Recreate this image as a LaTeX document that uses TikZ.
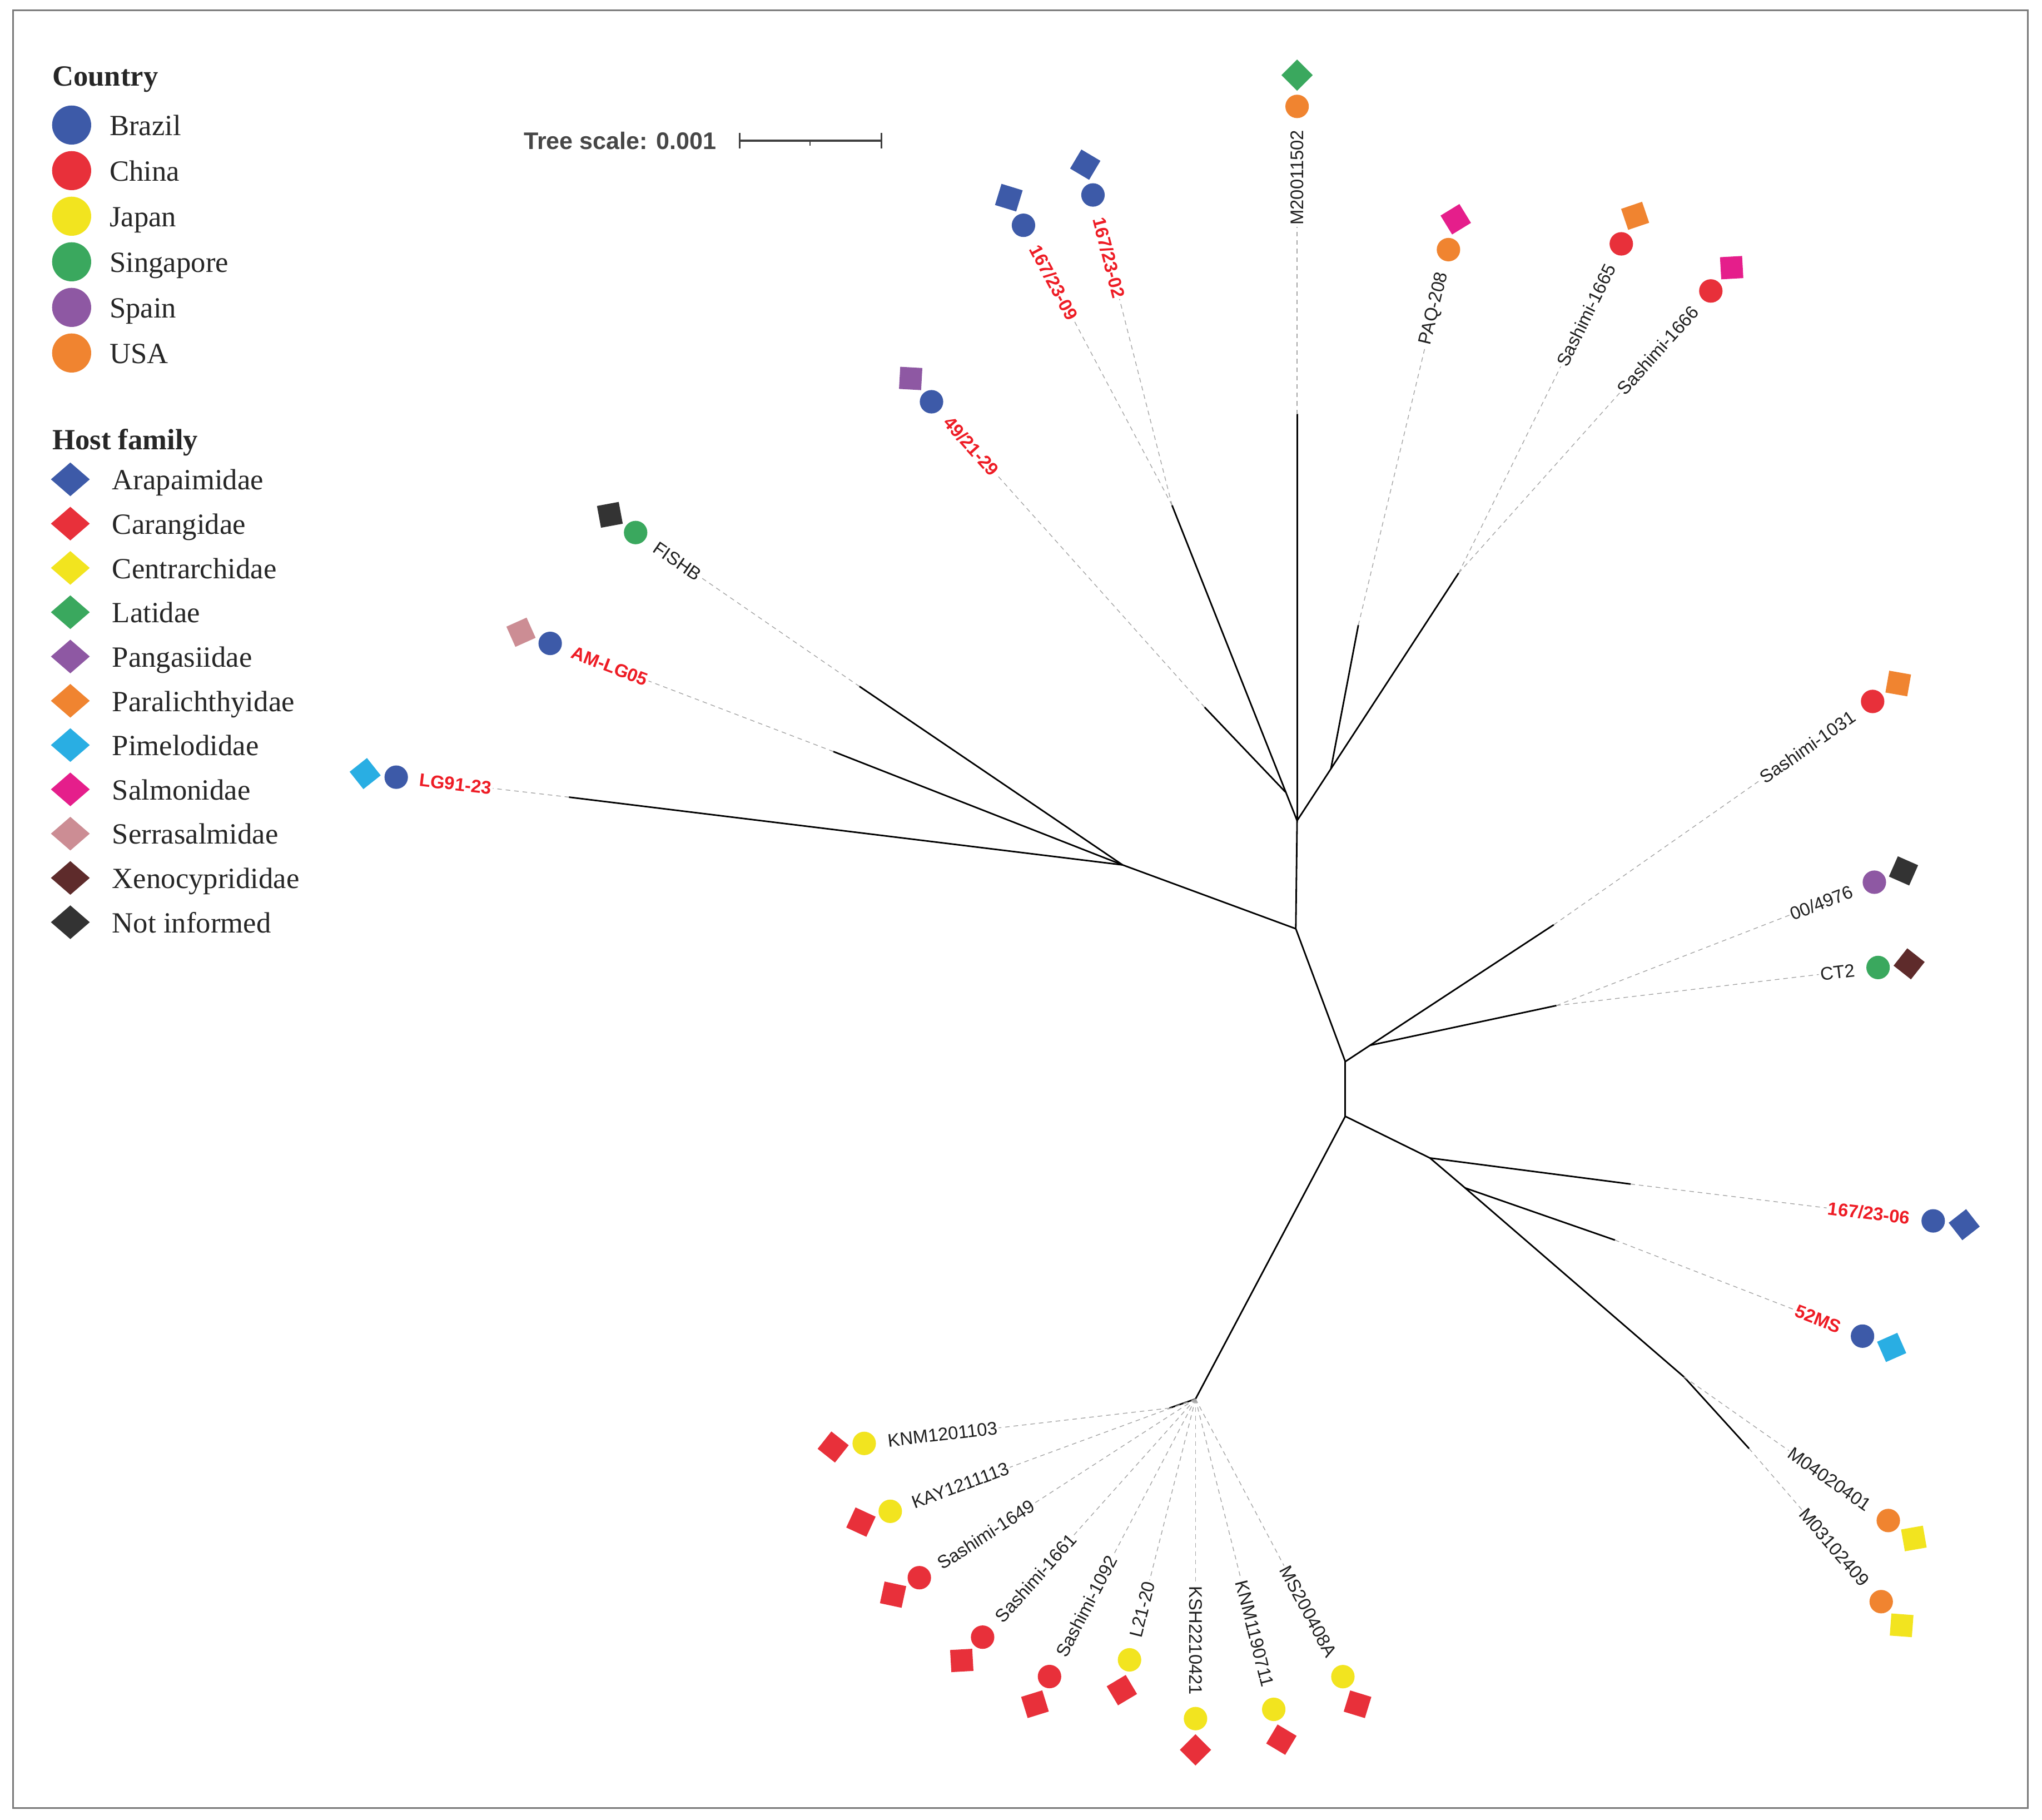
\documentclass[tikz,border=0pt]{standalone}
\usepackage{fontspec}
\setmainfont{Liberation Serif}
\newfontfamily\lab{Liberation Sans}
\usetikzlibrary{calc,shapes.geometric}
\definecolor{cBrazil}{HTML}{3D5AA8}
\definecolor{cChina}{HTML}{E8303A}
\definecolor{cJapan}{HTML}{F2E41F}
\definecolor{cSing}{HTML}{3AA85E}
\definecolor{cSpain}{HTML}{8E58A3}
\definecolor{cUSA}{HTML}{F08430}
\definecolor{hPime}{HTML}{29AEE3}
\definecolor{hSalm}{HTML}{E51E8B}
\definecolor{hSerr}{HTML}{CC8D94}
\definecolor{hXeno}{HTML}{5E2B2B}
\definecolor{hNot}{HTML}{333333}
\definecolor{labred}{HTML}{EE1C25}
\definecolor{framegray}{HTML}{7A7A7A}
\definecolor{legtxt}{HTML}{262626}

% right-half leaf: name, tip, angle, distance, text, style, country colour, host colour
\newcommand\leafR[8]{%
  \path (#2) ++(#3:#4) node[leaflab,#6,rotate=#3,anchor=west] (#1) {#5};
  \draw[lead] (#2) -- (#1.west);
  \node[cty,fill=#7] (#1c) at ($(#1.east)+(#3:17)$) {};
  \node[hst,fill=#8,rotate=#3+45] (#1h) at ($(#1c)+(#3:24)$) {};
}
% left-half leaf
\newcommand\leafL[8]{%
  \path (#2) ++(#3:#4) node[leaflab,#6,rotate=#3-180,anchor=east] (#1) {#5};
  \draw[lead] (#2) -- (#1.east);
  \node[cty,fill=#7] (#1c) at ($(#1.west)+(#3:17)$) {};
  \node[hst,fill=#8,rotate=#3+45] (#1h) at ($(#1c)+(#3:24)$) {};
}

\begin{document}
\begin{tikzpicture}[x=1pt,y=1pt,
  br/.style={line width=1.2pt, line cap=round, draw=black},
  lead/.style={draw=black!35, line width=0.6pt, dash pattern=on 3.5pt off 3pt},
  leaflab/.style={font={\lab\fontsize{14}{16.8}\selectfont}, inner sep=1pt},
  blk/.style={text=black!88},
  rd/.style={text=labred, font={\lab\bfseries\fontsize{14}{16.8}\selectfont}},
  cty/.style={circle, minimum size=18pt, inner sep=0pt, draw=none},
  hst/.style={rectangle, minimum size=17pt, inner sep=0pt, draw=none},
  legc/.style={circle, minimum size=30pt, inner sep=0pt, draw=none},
  legd/.style={diamond, minimum width=30pt, minimum height=26pt, inner sep=0pt, draw=none},
  legt/.style={anchor=base west, text=legtxt, font={\fontsize{22.5}{26}\selectfont}, inner sep=0pt},
  legh/.style={anchor=base west, text=legtxt, font={\bfseries\fontsize{22.5}{26}\selectfont}, inner sep=0pt},
  sbar/.style={draw=black!75, line width=1.3pt}
]
\fill[white] (0,0) rectangle (1568,-1397);
\useasboundingbox (0,0) rectangle (1568,-1397);
\draw[framegray, line width=1.3pt] (10,-8) rectangle (1557,-1388);

% ---------- legend ----------
\node[legh] (hC) at (40,-66) {Country};
\foreach \n/\c/\t [count=\i from 0] in {lB/cBrazil/Brazil, lC/cChina/China, lJ/cJapan/Japan, lS/cSing/Singapore, lE/cSpain/Spain, lU/cUSA/USA}{
  \node[legc, fill=\c] (\n) at (55,-96-35*\i) {};
  \node[legt] (\n t) at (84,-104-35*\i) {\t};
}
\node[legh] (hH) at (40,-345) {Host family};
\foreach \n/\c/\t [count=\i from 0] in {dA/cBrazil/Arapaimidae, dC/cChina/Carangidae, dCe/cJapan/Centrarchidae, dL/cSing/Latidae, dP/cSpain/Pangasiidae, dPa/cUSA/Paralichthyidae, dPi/hPime/Pimelodidae, dS/hSalm/Salmonidae, dSe/hSerr/Serrasalmidae, dX/hXeno/Xenocyprididae, dN/hNot/Not informed}{
  \node[legd, fill=\c] (\n) at (54,-368-34*\i) {};
  \node[legt] (\n t) at (86,-376-34*\i) {\t};
}

% ---------- tree scale ----------
\node[anchor=west, text=black!72, inner sep=0pt, font={\lab\bfseries\fontsize{18.4}{21}\selectfont}] (ts) at (402,-108) {Tree scale: 0.001};
\coordinate (sb1) at (568,-108);
\coordinate (sb2) at (677,-108);
\coordinate (sbm) at (622,-108);
\draw[sbar] (sb1) -- (sb2);
\draw[sbar] ($(sb1)+(0,6)$) -- ($(sb1)+(0,-6)$);
\draw[sbar] ($(sb2)+(0,6)$) -- ($(sb2)+(0,-6)$);
\draw[sbar, line width=0.9pt] (sbm) -- ($(sbm)+(0,-4)$);

% ---------- tree skeleton ----------
\coordinate (C1) at (1033,-815);
\coordinate (C2) at (1033,-857);
\coordinate (U) at (995,-713);
\coordinate (T) at (996,-630);
\coordinate (LN) at (862,-664);
\coordinate (tLG) at (437,-612);
\coordinate (tAM) at (640,-577);
\coordinate (tFI) at (660,-527);
\coordinate (tM2) at (996,-318);
\coordinate (N1) at (900,-388);
\coordinate (L1) at (987,-608);
\coordinate (t49) at (925,-543);
\coordinate (N2) at (1120,-440);
\coordinate (R1) at (1022,-590);
\coordinate (tPAQ) at (1043,-480);
\coordinate (RN) at (1052,-802.5);
\coordinate (tS31) at (1193,-710);
\coordinate (CTn) at (1195,-772);
\coordinate (A1) at (1098,-889);
\coordinate (t06) at (1252,-909);
\coordinate (A2) at (1125,-912);
\coordinate (t52) at (1240,-952);
\coordinate (Mn) at (1293,-1057);
\coordinate (tM03) at (1343,-1112);
\coordinate (Bn) at (918,-1074);
\coordinate (Bn2) at (898,-1081);

\draw[br] (C1) -- (C2);
\draw[br] (C1) -- (U) -- (T);
\draw[br] (U) -- (LN);
\draw[br] (LN) -- (tLG);
\draw[br] (LN) -- (tAM);
\draw[br] (LN) -- (tFI);
\draw[br] (T) -- (tM2);
\draw[br] (T) -- (N1);
\draw[br] (L1) -- (t49);
\draw[br] (T) -- (N2);
\draw[br] (R1) -- (tPAQ);
\draw[br] (C1) -- (RN) -- (tS31);
\draw[br] (RN) -- (CTn);
\draw[br] (C2) -- (A1) -- (t06);
\draw[br] (A1) -- (A2) -- (Mn) -- (tM03);
\draw[br] (A2) -- (t52);
\draw[br] (C2) -- (Bn) -- (Bn2);

% ---------- leaves ----------
\leafR{M2}{tM2}{90}{144}{M20011502}{blk}{cUSA}{cSing}
\leafL{s02}{N1}{104.3}{163.5}{167/23-02}{rd}{cBrazil}{cBrazil}
\leafL{s09}{N1}{117.95}{161}{167/23-09}{rd}{cBrazil}{cBrazil}
\leafL{s49}{t49}{131.8}{240}{49/21-29}{rd}{cBrazil}{cSpain}
\leafL{FI}{tFI}{145.5}{148}{FISHB}{blk}{cSing}{hNot}
\leafL{AM}{tAM}{159.1}{152}{AM-LG05}{rd}{cBrazil}{hSerr}
\leafL{LG}{tLG}{173.4}{59}{LG91-23}{rd}{cBrazil}{hPime}
\leafR{PAQ}{tPAQ}{76.5}{220.6}{PAQ-208}{blk}{cUSA}{hSalm}
\leafR{S65}{N2}{63.7}{177}{Sashimi-1665}{blk}{cChina}{cUSA}
\leafR{S66}{N2}{48.2}{185.6}{Sashimi-1666}{blk}{cChina}{hSalm}
\leafR{S31}{tS31}{35.0}{194}{Sashimi-1031}{blk}{cChina}{cUSA}
\leafR{P49}{CTn}{21.2}{192}{00/4976}{blk}{cSpain}{hNot}
\leafR{CT}{CTn}{6.75}{203}{CT2}{blk}{cSing}{hXeno}
\leafR{s06}{t06}{-6.94}{151.7}{167/23-06}{rd}{cBrazil}{cBrazil}
\leafR{MS52}{t52}{-21.2}{148}{52MS}{rd}{cBrazil}{hPime}
\leafR{M04}{Mn}{-35.1}{98.5}{M04020401}{blk}{cUSA}{cJapan}
\leafR{M03}{tM03}{-49.2}{62}{M03102409}{blk}{cUSA}{cJapan}
\leafL{K03}{Bn2}{186.6}{132}{KNM1201103}{blk}{cJapan}{cChina}
\leafL{KAY}{Bn}{200.2}{152}{KAY1211113}{blk}{cJapan}{cChina}
\leafL{S49}{Bn}{212.9}{147.6}{Sashimi-1649}{blk}{cChina}{cChina}
\leafL{S61}{Bn}{228.2}{140.3}{Sashimi-1661}{blk}{cChina}{cChina}
\leafL{S92}{Bn}{242.25}{135.8}{Sashimi-1092}{blk}{cChina}{cChina}
\leafL{L21}{Bn}{255.8}{143.6}{L21-20}{blk}{cJapan}{cChina}
\leafR{KSH}{Bn}{-90}{142.7}{KSH2210421}{blk}{cJapan}{cChina}
\leafR{K11}{Bn}{-75.85}{142.8}{KNM1190711}{blk}{cJapan}{cChina}
\leafR{MSA}{Bn}{-62.04}{144.9}{MS200408A}{blk}{cJapan}{cChina}
\end{tikzpicture}
\end{document}
